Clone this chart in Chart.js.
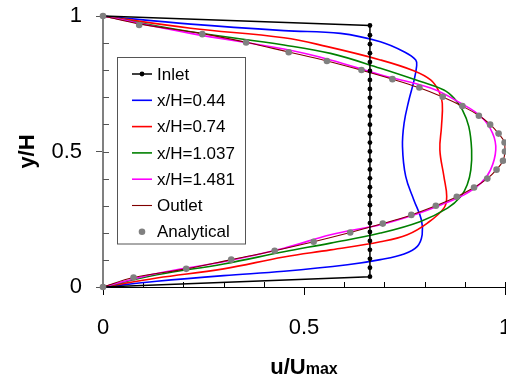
<!DOCTYPE html>
<html>
<head>
<meta charset="utf-8">
<script src="https://cdn.jsdelivr.net/npm/chart.js@4.4.1/dist/chart.umd.min.js"></script>
<style>
  html, body { margin: 0; padding: 0; background: #fff; overflow: hidden; }
  #wrap { width: 506px; height: 378px; overflow: hidden; }
</style>
</head>
<body>
<div id="wrap"><canvas id="profileChart" width="509" height="378"></canvas></div>
<script>
// axis ticks
const tickValues = [0, 0.5, 1];
const tickLabels = ['0', '0.5', '1'];
const xMinor = [0.1, 0.2, 0.3, 0.4, 0.6, 0.7, 0.8, 0.9, 1];
const yMinor = [0.1, 0.2, 0.3, 0.4, 0.5, 0.6, 0.7, 0.8, 0.9];

const seriesNames = ['Inlet', 'x/H=0.44', 'x/H=0.74', 'x/H=1.037', 'x/H=1.481', 'Outlet', 'Analytical'];

// Inlet (plug flow)
const inletU = [0, 0.664, 0.664, 0.664, 0.664, 0.664, 0.664, 0.664, 0.664, 0.664, 0.664,
  0.664, 0.664, 0.664, 0.664, 0.664, 0.664, 0.664, 0.664, 0.664, 0.664,
  0.664, 0.664, 0.664, 0.664, 0.664, 0.664, 0.664, 0.664, 0.664, 0];
const inletY = [0, 0.038, 0.071, 0.104, 0.137, 0.170, 0.203, 0.236, 0.269, 0.302, 0.335,
  0.368, 0.401, 0.434, 0.467, 0.500, 0.533, 0.566, 0.599, 0.632, 0.665,
  0.698, 0.731, 0.764, 0.797, 0.830, 0.863, 0.896, 0.929, 0.965, 1];

// x/H = 0.44
const u044 = [0, 0.218, 0.45, 0.591, 0.690, 0.749, 0.778, 0.780, 0.773, 0.761, 0.749, 0.745,
  0.753, 0.773, 0.792, 0.794, 0.782, 0.749, 0.690, 0.608, 0.45, 0.300, 0.134, 0];
const y044 = [1, 0.970, 0.946, 0.936, 0.905, 0.868, 0.838, 0.813, 0.758, 0.690, 0.605, 0.518,
  0.408, 0.322, 0.248, 0.193, 0.150, 0.122, 0.101, 0.082, 0.058, 0.042, 0.021, 0];

// x/H = 0.74
const u074 = [0, 0.218, 0.45, 0.558, 0.690, 0.773, 0.815, 0.836, 0.844, 0.842, 0.838,
  0.848, 0.855, 0.848, 0.807, 0.757, 0.690, 0.566, 0.45, 0.300, 0.134, 0];
const y074 = [1, 0.955, 0.920, 0.887, 0.838, 0.798, 0.764, 0.721, 0.678, 0.592, 0.506,
  0.408, 0.334, 0.291, 0.236, 0.193, 0.167, 0.137, 0.111, 0.067, 0.033, 0];

// x/H = 1.037
const u1037 = [0, 0.218, 0.45, 0.566, 0.690, 0.790, 0.848, 0.873, 0.894, 0.910, 0.917,
  0.915, 0.906, 0.890, 0.857, 0.790, 0.690, 0.566, 0.45, 0.300, 0.134, 0];
const y1037 = [1, 0.942, 0.893, 0.862, 0.807, 0.758, 0.727, 0.697, 0.654, 0.592, 0.506,
  0.432, 0.377, 0.334, 0.291, 0.242, 0.199, 0.162, 0.130, 0.085, 0.045, 0];

// x/H = 1.481
const u1481 = [0, 0.218, 0.45, 0.566, 0.690, 0.815, 0.890, 0.940, 0.969, 0.977,
  0.964, 0.940, 0.898, 0.840, 0.773, 0.690, 0.566, 0.45, 0.300, 0.134, 0];
const y1481 = [1, 0.936, 0.878, 0.838, 0.783, 0.734, 0.678, 0.629, 0.568, 0.506,
  0.432, 0.383, 0.340, 0.303, 0.266, 0.230, 0.193, 0.143, 0.093, 0.050, 0];

// Outlet
const uOut = [0, 0.090, 0.247, 0.356, 0.462, 0.557, 0.643, 0.720, 0.787, 0.845, 0.894, 0.935, 0.963, 0.984, 0.999,
  1.0, 0.995, 0.979, 0.956, 0.923, 0.880, 0.828, 0.767, 0.696, 0.615, 0.524, 0.427, 0.319, 0.207, 0.076, 0];
const yOut = [1, 0.971, 0.935, 0.903, 0.867, 0.834, 0.800, 0.767, 0.735, 0.701, 0.667, 0.633, 0.600, 0.566, 0.533,
  0.500, 0.466, 0.433, 0.400, 0.367, 0.333, 0.300, 0.266, 0.234, 0.201, 0.167, 0.134, 0.101, 0.067, 0.035, 0];

// Analytical
const uAna = [0, 0.090, 0.247, 0.356, 0.462, 0.557, 0.643, 0.720, 0.787, 0.845, 0.894, 0.935, 0.963, 0.984, 0.999,
  1.0, 0.995, 0.979, 0.956, 0.923, 0.880, 0.828, 0.767, 0.696, 0.615, 0.524, 0.427, 0.319, 0.207, 0.076, 0];
const yAna = [1, 0.967, 0.933, 0.902, 0.866, 0.834, 0.801, 0.767, 0.736, 0.702, 0.668, 0.632, 0.599, 0.566, 0.533,
  0.500, 0.466, 0.433, 0.400, 0.367, 0.333, 0.300, 0.266, 0.234, 0.201, 0.167, 0.134, 0.101, 0.067, 0.035, 0];

const pts = (u, y) => u.map((v, i) => ({ x: v, y: y[i] }));

const colors = ['#000000', '#0000ff', '#ff0000', '#008000', '#ff00ff', '#800000', '#808080'];

const curve = (i, u, y, order, width) => ({
  label: seriesNames[i],
  data: pts(u, y),
  showLine: true,
  borderColor: colors[i],
  borderWidth: width,
  pointRadius: 0,
  tension: 0.4,
  order: order,
  clip: false
});

const inletSet = curve(0, inletU, inletY, 1, 1.5);
inletSet.tension = 0;
inletSet.pointRadius = 2.4;
inletSet.pointBackgroundColor = '#000';
inletSet.pointBorderWidth = 0;

const anaSet = {
  label: seriesNames[6],
  data: pts(uAna, yAna),
  showLine: false,
  pointRadius: 3.3,
  pointBackgroundColor: colors[6],
  pointBorderWidth: 0,
  order: 0,
  clip: false
};

const datasets = [
  inletSet,
  curve(1, u044, y044, 6, 1.6),
  curve(2, u074, y074, 5, 1.6),
  curve(3, u1037, y1037, 4, 1.6),
  curve(4, u1481, y1481, 3, 1.6),
  curve(5, uOut, yOut, 2, 1.1),
  anaSet
];

const FONT = '"Liberation Sans", Arial, sans-serif';
const noPad = s => { s.paddingLeft = 0; s.paddingRight = 0; s.paddingTop = 0; s.paddingBottom = 0; };

// inner minor ticks, axis titles and the boxed legend
const extras = {
  id: 'extras',
  beforeDatasetsDraw(chart) {
    const { ctx, chartArea: a, scales } = chart;
    ctx.save();
    ctx.lineWidth = 1;
    ctx.strokeStyle = '#000';
    xMinor.forEach(v => {
      const px = Math.round(scales.x.getPixelForValue(v)) + 0.5;
      ctx.beginPath(); ctx.moveTo(px, a.bottom); ctx.lineTo(px, a.bottom - 5); ctx.stroke();
    });
    ctx.strokeStyle = '#555';
    yMinor.forEach(v => {
      const py = Math.round(scales.y.getPixelForValue(v)) + 0.5;
      ctx.beginPath(); ctx.moveTo(a.left, py); ctx.lineTo(a.left + 6, py); ctx.stroke();
    });
    ctx.restore();
  },
  afterDraw(chart) {
    const { ctx, chartArea: a } = chart;
    ctx.save();
    ctx.fillStyle = '#000';
    ctx.textBaseline = 'alphabetic';
    const big = 'bold 22px ' + FONT, small = 'bold 16px ' + FONT;
    ctx.font = big;
    const w1 = ctx.measureText('u/U').width;
    ctx.font = small;
    const w2 = ctx.measureText('max').width;
    const cx = (a.left + a.right) / 2;
    const x0 = cx - (w1 + w2) / 2;
    ctx.font = big;
    ctx.textAlign = 'left';
    ctx.fillText('u/U', x0, 374);
    ctx.font = small;
    ctx.fillText('max', x0 + w1, 374);

    ctx.translate(28, (a.top + a.bottom) / 2);
    ctx.rotate(-Math.PI / 2);
    ctx.font = big;
    ctx.textAlign = 'center';
    ctx.textBaseline = 'middle';
    ctx.fillText('y/H', 0, 0);
    ctx.setTransform(1, 0, 0, 1, 0, 0);

    ctx.fillStyle = '#fff';
    ctx.strokeStyle = '#555';
    ctx.lineWidth = 1;
    ctx.fillRect(117.5, 57.5, 128, 186.5);
    ctx.strokeRect(117.5, 57.5, 128, 186.5);
    ctx.font = '17px ' + FONT;
    ctx.textAlign = 'left';
    ctx.textBaseline = 'middle';
    chart.data.datasets.forEach((ds, i) => {
      const cy = 74 + i * 26.3;
      if (ds.showLine) {
        ctx.strokeStyle = ds.borderColor;
        ctx.lineWidth = ds.borderWidth;
        ctx.beginPath(); ctx.moveTo(132, cy); ctx.lineTo(152, cy); ctx.stroke();
      }
      if (ds.pointRadius > 0) {
        ctx.fillStyle = ds.pointBackgroundColor;
        ctx.beginPath(); ctx.arc(142, cy, ds.pointRadius, 0, Math.PI * 2); ctx.fill();
      }
      ctx.fillStyle = '#000';
      ctx.fillText(ds.label, 157, cy + 1);
    });
    ctx.restore();
  }
};

new Chart(document.getElementById('profileChart'), {
  type: 'scatter',
  data: { datasets: datasets },
  options: {
    responsive: false,
    animation: false,
    layout: { padding: { top: 16, right: 2, left: 0, bottom: 0 } },
    plugins: { legend: { display: false }, tooltip: { enabled: false } },
    scales: {
      x: {
        type: 'linear', min: 0, max: 1,
        afterBuildTicks: s => { s.ticks = tickValues.map(v => ({ value: v })); },
        afterFit: s => { s.height = 91; noPad(s); },
        ticks: {
          callback: v => tickLabels[tickValues.indexOf(v)],
          color: '#000', font: { family: FONT, size: 22 }, padding: 20, maxRotation: 0
        },
        grid: { drawOnChartArea: false, tickLength: 8, tickColor: '#000' },
        border: { color: '#000', width: 1 }
      },
      y: {
        type: 'linear', min: 0, max: 1,
        afterBuildTicks: s => { s.ticks = tickValues.map(v => ({ value: v })); },
        afterFit: s => { s.width = 103; noPad(s); },
        ticks: {
          callback: v => tickLabels[tickValues.indexOf(v)],
          color: '#000', font: { family: FONT, size: 22 }, padding: 14
        },
        grid: { drawOnChartArea: false, tickLength: 7, tickColor: '#555' },
        border: { color: '#808080', width: 2 }
      }
    }
  },
  plugins: [extras]
});
</script>
</body>
</html>
